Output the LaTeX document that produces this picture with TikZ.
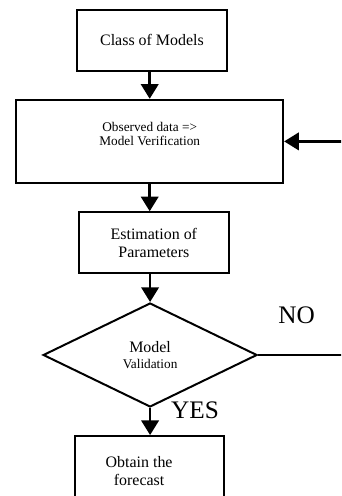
\documentclass[tikz,border=0pt]{standalone}
\usepackage{fontspec}
\setmainfont{Liberation Serif}
\usetikzlibrary{arrows.meta, positioning, shapes.geometric}
\tikzset{
    % Process boxes
    procbox/.style={rectangle, draw=black, line width=1.5pt, fill=white,
                minimum width=3.97cm, minimum height=1.61cm, inner sep=0pt,
                align=center, font=\fontsize{12}{13.5}\selectfont},
    boxtext/.style={align=center, inner sep=0pt, font=\fontsize{10}{10.5}\selectfont},
    % Decision
    decbox/.style={diamond, draw=black, line width=1.5pt, fill=white,
                minimum width=5.66cm, minimum height=2.75cm, inner sep=0pt,
                align=center, font=\fontsize{12}{12}\selectfont},
    yesno/.style={inner sep=0pt, font=\fontsize{19}{19}\selectfont},
    % Connectors
    flowarrow/.style={-{Triangle[length=11pt, width=13pt]}, line width=2pt, black},
}
\begin{document}
\begin{tikzpicture}
\useasboundingbox (0,0) rectangle (9.02,-13.12);
\clip (0,0) rectangle (9.02,-13.12);

% Boxes
\node[procbox] (models) at (4.02,-1.07) {Class of Models};
\node[procbox, minimum width=7.06cm, minimum height=2.20cm] (verif) at (3.96,-3.74) {};
\node[boxtext] (veriftxt) at ([yshift=0.2cm]verif.center) {Observed data =>\\Model Verification};
\node[procbox] (estim) at (4.07,-6.42) {Estimation of\\Parameters};

% Decision
\node[decbox] (valid) at (3.97,-9.39) {Model\\{\fontsize{10}{10}\selectfont Validation}};

% Result
\node[procbox, minimum width=3.94cm, minimum height=1.69cm] (fcst) at (3.96,-12.38) {};
\node[boxtext, font=\fontsize{12}{13.5}\selectfont] (fcsttxt) at ([shift={(-0.28,-0.08)}]fcst.center) {Obtain the\\forecast};

% Arrows
\draw[flowarrow] (models.south -| verif.north) -- (verif.north);
\draw[flowarrow] (verif.south) -- (verif.south |- estim.north);
\draw[flowarrow] (estim.south -| valid.north) -- (valid.north);
\draw[flowarrow] (valid.south) -- (valid.south |- fcst.north);

% Feedback (runs off the right edge)
\coordinate (loop) at (9.5,0);
\draw[flowarrow] (valid.east) -- (valid.east -| loop) |- (verif.east);

% Labels
\node[yesno, above right=0.82cm and 0.53cm of valid.east] (nolbl) {NO};
\node[yesno, right=0.55cm of valid.south, yshift=-0.05cm] (yeslbl) {YES};

\end{tikzpicture}
\end{document}
